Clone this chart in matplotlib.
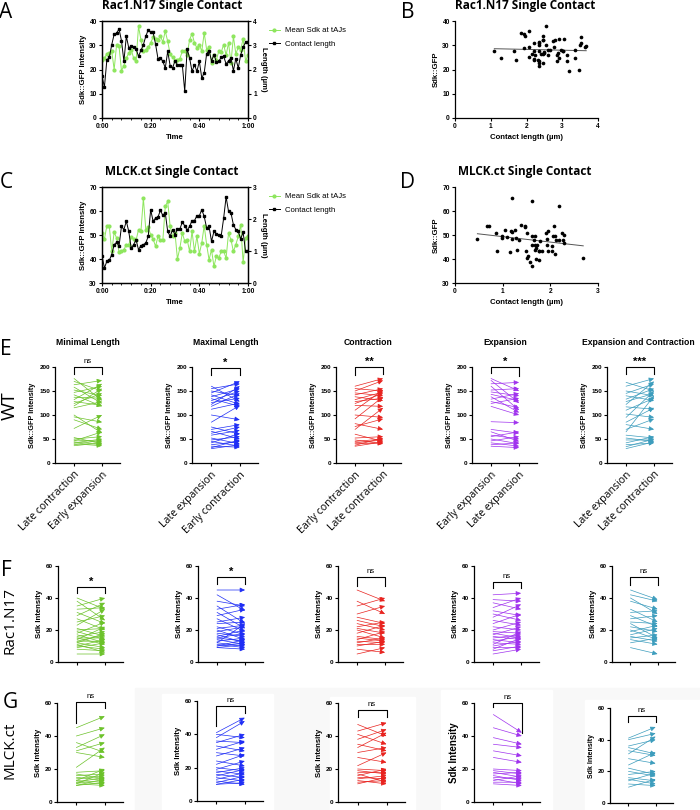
import numpy as np
import matplotlib
matplotlib.use("Agg")
import matplotlib.pyplot as plt
from matplotlib.ticker import MultipleLocator
from matplotlib.lines import Line2D

plt.rcParams["font.family"] = ["Liberation Sans", "DejaVu Sans"]
plt.rcParams["axes.linewidth"] = 0.9

# ---- single contact time courses (A, C) ----
time_min = list(range(61))
A_length = [1.72, 1.28, 2.40, 2.50, 3.02, 3.46, 3.50, 3.67, 3.19, 2.34,
            3.37, 2.89, 2.96, 2.91, 2.86, 2.54, 2.79, 3.02, 3.37, 3.64,
            3.53, 3.53, 3.05, 2.45, 2.47, 2.34, 2.06, 2.75, 2.16, 2.06,
            2.36, 2.20, 2.20, 2.20, 1.10, 2.86, 2.47, 1.92, 2.20, 1.92,
            2.34, 1.65, 1.86, 2.65, 2.78, 2.36, 2.61, 2.31, 2.34, 2.50,
            2.54, 2.23, 2.36, 2.47, 1.95, 2.45, 2.06, 2.61, 2.91, 3.13, 3.13]
A_sdk = [24.0, 24.7, 26.4, 27.0, 27.5, 20.0, 30.3, 29.6, 19.5, 21.6,
         24.7, 26.8, 28.2, 24.7, 23.4, 37.8, 32.3, 27.5, 28.2, 29.2,
         31.0, 33.3, 32.7, 32.3, 33.7, 31.4, 35.8, 31.6, 26.4, 25.0,
         23.7, 24.0, 24.5, 27.5, 27.5, 26.1, 32.3, 34.8, 31.0, 28.9,
         30.3, 27.5, 35.1, 28.2, 29.2, 22.7, 26.1, 24.0, 27.5, 27.2,
         30.3, 25.9, 31.0, 22.7, 33.7, 26.4, 29.2, 28.2, 32.7, 23.4, 26.1]
C_length = [0.85, 0.47, 0.68, 0.71, 0.89, 1.20, 1.27, 1.15, 1.77, 1.67,
            1.93, 1.61, 1.09, 1.20, 1.35, 1.04, 1.17, 1.20, 1.25, 1.46,
            2.29, 1.93, 2.03, 2.06, 2.27, 2.11, 2.19, 1.61, 1.46, 1.67,
            1.51, 1.69, 1.69, 1.90, 1.79, 1.65, 1.77, 1.95, 1.95, 2.10,
            2.10, 2.29, 2.08, 1.72, 1.77, 1.30, 1.61, 1.54, 1.51, 1.48,
            2.03, 2.69, 2.24, 2.19, 1.82, 1.67, 1.61, 1.38, 1.58, 0.99, 0.99]
C_sdk = [50.8, 48.3, 53.9, 53.6, 43.2, 51.1, 48.8, 42.9, 43.2, 43.9,
         46.0, 46.0, 49.2, 48.3, 47.8, 52.2, 51.5, 65.4, 52.2, 53.3,
         50.1, 48.3, 45.3, 49.4, 47.8, 47.8, 61.9, 64.0, 53.6, 49.4,
         50.8, 40.0, 44.6, 50.8, 47.4, 48.0, 43.2, 51.5, 43.2, 49.4,
         42.2, 46.7, 53.9, 46.0, 39.7, 43.9, 36.9, 41.1, 40.4, 43.2,
         43.2, 40.4, 50.8, 48.0, 43.2, 46.0, 49.4, 54.3, 38.6, 48.8, 49.4]

# ---- paired before/after data (E: WT, F: Rac1.N17, G: MLCK.ct) ----
E_titles = ["Minimal Length", "Maximal Length", "Contraction", "Expansion",
            "Expansion and Contraction"]
E_labels = [["Late contraction", "Early expansion"],
            ["Late expansion", "Early contraction"],
            ["Early contraction", "Late contraction"],
            ["Early expansion", "Late expansion"],
            ["Late expansion", "Late contraction"]]
E_sig = ["ns", "*", "**", "*", "***"]
F_sig = ["*", "*", "ns", "ns", "ns"]
G_sig = ["ns", "ns", "ns", "ns", "ns"]

E1_start = [176, 170, 163, 158, 152, 147, 142, 137, 132, 128, 124, 119, 115, 100, 96, 90, 72, 53, 50, 48, 46, 44, 42, 40, 38, 36]
E1_end = [130, 150, 172, 124, 140, 160, 118, 135, 165, 120, 145, 155, 128, 62, 85, 70, 100, 40, 55, 45, 65, 38, 50, 36, 48, 42]
E2_start = [160, 155, 150, 146, 142, 138, 134, 130, 126, 122, 118, 112, 100, 85, 75, 70, 66, 62, 58, 52, 48, 45, 42, 38, 35, 32, 30]
E2_end = [128, 165, 140, 170, 122, 155, 118, 150, 135, 160, 145, 125, 90, 120, 60, 80, 50, 75, 68, 40, 55, 35, 62, 45, 33, 48, 38]
E3_start = [160, 155, 150, 146, 142, 138, 132, 128, 124, 120, 110, 100, 92, 82, 76, 70, 60, 52, 48, 45, 42, 40, 37, 35]
E3_end = [176, 150, 172, 140, 155, 130, 148, 135, 145, 118, 152, 95, 138, 70, 92, 115, 45, 55, 40, 50, 48, 42, 52, 44]
E4_start = [176, 172, 165, 160, 152, 148, 143, 138, 133, 128, 124, 118, 86, 70, 65, 58, 55, 50, 46, 42, 38, 35]
E4_end = [150, 125, 168, 110, 155, 140, 130, 105, 145, 115, 135, 100, 84, 62, 45, 50, 65, 40, 55, 35, 42, 32]
E5_start = [168, 160, 150, 145, 140, 133, 128, 122, 117, 110, 102, 95, 85, 80, 70, 65, 58, 52, 48, 42, 38, 34, 30]
E5_end = [150, 176, 140, 165, 130, 155, 145, 170, 112, 135, 95, 150, 115, 70, 92, 140, 52, 45, 48, 55, 42, 50, 44]

F1_start = [40, 38, 35, 33, 31, 29, 27, 25, 23, 21, 20, 19, 18, 17, 16, 15, 15, 14, 13, 13, 12, 12, 11, 10, 10, 9, 8, 5]
F1_end = [33, 26, 40, 34, 24, 37, 20, 29, 33, 16, 21, 14, 25, 12, 19, 15, 11, 22, 17, 13, 9, 18, 6, 14, 8, 12, 7, 5]
F2_start = [45, 42, 38, 35, 33, 31, 29, 27, 25, 24, 22, 21, 20, 19, 18, 17, 16, 15, 15, 14, 13, 12, 12, 11, 10, 10, 9, 9]
F2_end = [45, 32, 35, 24, 36, 21, 33, 19, 28, 25, 17, 23, 14, 22, 16, 12, 20, 13, 18, 11, 15, 10, 24, 9, 14, 12, 8, 11]
F3_start = [45, 38, 35, 30, 28, 26, 24, 22, 21, 20, 18, 16, 15, 14, 13, 12, 11, 10, 8, 5]
F3_end = [38, 30, 40, 35, 24, 22, 20, 25, 18, 15, 23, 14, 13, 19, 12, 15, 11, 13, 6, 9]
F4_start = [42, 39, 37, 34, 32, 30, 28, 26, 24, 22, 20, 19, 18, 17, 16, 15, 14, 13, 12, 11, 10, 9, 8, 7, 5]
F4_end = [43, 38, 33, 40, 29, 26, 36, 23, 30, 20, 25, 18, 15, 22, 14, 17, 12, 16, 11, 19, 13, 9, 15, 10, 8]
F5_start = [45, 42, 40, 38, 33, 31, 29, 27, 25, 24, 22, 20, 19, 17, 16, 15, 14, 12, 9]
F5_end = [39, 38, 30, 33, 25, 32, 22, 29, 24, 15, 19, 14, 23, 21, 13, 17, 11, 15, 5]

G1_start = [45, 40, 36, 33, 31, 30, 21, 18, 17, 16, 15, 14, 13, 13, 12, 12, 11, 11, 10, 10]
G1_end = [52, 45, 30, 41, 36, 27, 33, 19, 14, 17, 13, 16, 12, 20, 11, 15, 10, 18, 14, 12]
G2_start = [41, 40, 38, 36, 35, 33, 31, 29, 27, 24, 22, 20, 19, 18, 17, 16, 15, 14, 13, 12, 11, 10, 10]
G2_end = [50, 38, 48, 35, 40, 30, 36, 27, 32, 21, 28, 18, 24, 16, 20, 14, 19, 12, 17, 10, 15, 11, 13]
G3_start = [47, 43, 41, 38, 35, 33, 30, 27, 22, 20, 19, 18, 17, 16, 15, 14, 13, 12, 11]
G3_end = [40, 48, 35, 44, 31, 42, 33, 24, 30, 19, 17, 18, 12, 20, 14, 16, 11, 13, 15]
G4_start = [53, 45, 39, 35, 31, 27, 20, 19, 18, 17, 16, 15, 14, 13, 12, 11]
G4_end = [42, 40, 35, 33, 28, 24, 19, 17, 15, 18, 13, 14, 11, 16, 12, 10]
G5_start = [41, 40, 36, 35, 33, 31, 28, 24, 22, 20, 18, 16, 15, 14, 12, 10]
G5_end = [48, 44, 40, 31, 30, 42, 25, 32, 18, 17, 20, 14, 12, 19, 11, 15]

LIME = "#8ee65e"
COLORS = ["#6cc22a", "#1f2ef5", "#e8231f", "#a033ee", "#3d9dbd"]

W, H = 700, 810
fig = plt.figure(figsize=(7, 8.1), dpi=100)


def px_axes(left, top, right, bottom):
    return fig.add_axes([left / W, 1 - bottom / H, (right - left) / W, (bottom - top) / H])


def ftext(x, y, s, **kw):
    fig.text(x / W, 1 - y / H, s, **kw)


def style_ticks(ax, size=4.6):
    ax.tick_params(length=2.5, width=0.8, labelsize=size, pad=1.2)
    for lab in ax.get_xticklabels() + ax.get_yticklabels():
        lab.set_fontweight("bold")


def time_panel(ax, sdk, length, ylim, ymax_len, title, ty):
    ax.plot(time_min, sdk, color=LIME, lw=0.7, marker="o", ms=2.0)
    ax.set_xlim(0, 60)
    ax.set_ylim(*ylim)
    ax.set_xticks([0, 20, 40, 60])
    ax.set_xticklabels(["0:00", "0:20", "0:40", "1:00"])
    ax.xaxis.set_minor_locator(MultipleLocator(4))
    ax.yaxis.set_major_locator(MultipleLocator(10))
    ax.set_ylabel("Sdk::GFP Intensity", fontsize=5.6, fontweight="bold", labelpad=2)
    ax.set_xlabel("Time", fontsize=5.6, fontweight="bold", labelpad=3)
    ax.tick_params(which="minor", length=1.5, width=0.6)
    style_ticks(ax, 4.8)
    ax2 = ax.twinx()
    ax2.plot(time_min, length, color="black", lw=0.7, marker="s", ms=2.0)
    ax2.set_ylim(0, ymax_len)
    ax2.yaxis.set_major_locator(MultipleLocator(1))
    ax2.set_ylabel("Length (µm)", fontsize=5.6, fontweight="bold", rotation=270, labelpad=7)
    style_ticks(ax2, 4.8)
    ftext(172, ty, title, fontsize=8.5, fontweight="bold", family="Open Sans", ha="center", va="center")
    return ax2


def scatter_panel(ax, length, sdk, xmax, ylim, title, ty):
    ax.scatter(length, sdk, s=7, color="black", lw=0, zorder=3)
    k, b = np.polyfit(length, sdk, 1)
    xs = np.array([min(length), max(length)])
    ax.plot(xs, k * xs + b, color="#555555", lw=0.7)
    ax.set_xlim(0, xmax)
    ax.set_ylim(*ylim)
    ax.xaxis.set_major_locator(MultipleLocator(1))
    ax.yaxis.set_major_locator(MultipleLocator(10))
    for s in ["top", "right"]:
        ax.spines[s].set_visible(False)
    ax.set_ylabel("Sdk::GFP", fontsize=5.6, fontweight="bold", labelpad=2)
    ax.set_xlabel("Contact length (µm)", fontsize=5.6, fontweight="bold", labelpad=3)
    style_ticks(ax, 4.8)
    ftext(525, ty, title, fontsize=8.5, fontweight="bold", family="Open Sans", ha="center", va="center")


# A
axA = px_axes(102, 21, 248, 118)
time_panel(axA, A_sdk, A_length, (0, 40), 4, "Rac1.N17 Single Contact", 6)
# B
axB = px_axes(455, 21, 598, 118)
scatter_panel(axB, A_length, A_sdk, 4, (0, 40), "Rac1.N17 Single Contact", 6)
# C
axC = px_axes(102, 187, 248, 283)
time_panel(axC, C_sdk, C_length, (30, 70), 3, "MLCK.ct Single Contact", 172)
# D
axD = px_axes(455, 187, 598, 283)
scatter_panel(axD, C_length, C_sdk, 3, (30, 70), "MLCK.ct Single Contact", 172)

leg_handles = [Line2D([], [], color=LIME, lw=0.7, marker="o", ms=2.0),
               Line2D([], [], color="black", lw=0.7, marker="s", ms=2.0)]
for ytop in (20, 186):
    fig.legend(leg_handles, ["Mean Sdk at tAJs", "Contact length"], loc="upper left",
               bbox_to_anchor=(262 / W, 1 - ytop / H), frameon=False, fontsize=5.6,
               handlelength=1.4, handletextpad=0.7, labelspacing=0.8)


def paired_panel(box, start, end, color, ymax, ystep, sig, bracket, ylabel, ylsize, xlabels=None):
    ax = px_axes(*box)
    for s, e in zip(start, end):
        ax.annotate("", xy=(1, e), xytext=(0, s),
                    arrowprops=dict(arrowstyle="-|>,head_length=0.3,head_width=0.14",
                                    color=color, lw=0.5, shrinkA=0, shrinkB=0,
                                    mutation_scale=10),
                    annotation_clip=False)
    ax.set_xlim(-0.68, 1.64)
    ax.set_ylim(0, ymax)
    ax.set_xticks([0, 1])
    ax.yaxis.set_major_locator(MultipleLocator(ystep))
    for sp in ["top", "right"]:
        ax.spines[sp].set_visible(False)
    style_ticks(ax, 4.6)
    if xlabels:
        ax.set_xticklabels(xlabels, rotation=45, ha="right", rotation_mode="anchor",
                           fontsize=7.6, family="Open Sans", fontweight="normal")
        ax.tick_params(axis="x", pad=2)
    else:
        ax.set_xticklabels([])
    ax.set_ylabel(ylabel, fontsize=ylsize, fontweight="bold", labelpad=2)
    top, lleg, rleg = bracket
    ax.plot([0, 0, 1, 1], [lleg, top, top, rleg], color="black", lw=0.8, clip_on=False)
    if "*" in sig:
        ax.text(0.5, top + ymax * 0.055, sig, ha="center", va="center", fontsize=8, fontweight="bold")
    else:
        ax.text(0.5, top + ymax * 0.02, sig, ha="center", va="bottom", fontsize=5.6)
    return ax


E_start = [E1_start, E2_start, E3_start, E4_start, E5_start]
E_end = [E1_end, E2_end, E3_end, E4_end, E5_end]
F_start = [F1_start, F2_start, F3_start, F4_start, F5_start]
F_end = [F1_end, F2_end, F3_end, F4_end, F5_end]
G_start = [G1_start, G2_start, G3_start, G4_start, G5_start]
G_end = [G1_end, G2_end, G3_end, G4_end, G5_end]

E_x = [(55, 120), (192, 258), (336, 401), (472, 537), (607, 672)]
E_tx = [88, 226, 368, 505, 638]
E_br = [(200, 185, 185), (197, 183, 183), (200, 183, 185), (200, 187, 181), (200, 185, 185)]
F_x = [(58, 123), (198, 263), (338, 403), (474, 539), (612, 675)]
F_br = [(47, 43, 43), (53, 49, 49), (53, 47.5, 47.5), (50, 46, 46), (53, 48, 48)]
G_box = [(57, 703, 123, 802), (197, 701, 263, 801), (338, 703, 405, 802),
         (474, 703, 540, 802), (610, 708, 673, 803)]
G_br = [(60.6, 48, 57), (57, 45, 53), (56, 51.5, 51.5), (60, 57.6, 42), (55, 51, 51)]
G_ylsize = [5.6, 5.6, 5.6, 7.0, 5.0]

# faint grey backdrop of row G with white tiles
fig.patches.append(plt.Rectangle((135 / W, 0), 565 / W, 122 / H, transform=fig.transFigure,
                                 color="#f8f8f8", zorder=-5))
for l, t, r in [(162, 694, 273), (330, 697, 415), (441, 690, 552), (585, 700, 700)]:
    fig.patches.append(plt.Rectangle((l / W, 0), (r - l) / W, (H - t) / H,
                                     transform=fig.transFigure, color="white", zorder=-4))

for i in range(5):
    l, r = E_x[i]
    paired_panel((l, 367, r, 463), E_start[i], E_end[i], COLORS[i], 200, 50, E_sig[i],
                 E_br[i], "Sdk::GFP Intensity", 5.2, E_labels[i])
    ftext(E_tx[i], 343, E_titles[i], fontsize=6.2, fontweight="bold", ha="center", va="center")
    l, r = F_x[i]
    paired_panel((l, 566, r, 662), F_start[i], F_end[i], COLORS[i], 60, 20, F_sig[i],
                 F_br[i], "Sdk Intensity", 5.6)
    paired_panel(G_box[i], G_start[i], G_end[i], COLORS[i], 60, 20, G_sig[i],
                 G_br[i], "Sdk Intensity", G_ylsize[i])

# panel letters and row labels
for let, x, y in [("A", 6, 12), ("B", 408, 12), ("C", 6, 182), ("D", 408, 182),
                  ("E", 6, 350), ("F", 6, 570), ("G", 10, 702)]:
    ftext(x, y, let, fontsize=15, family="Open Sans", ha="center", va="center")
for lab, y, sz in [("WT", 406, 14), ("Rac1.N17", 620, 11), ("MLCK.ct", 750, 11)]:
    ftext(10, y, lab, fontsize=sz, family="Open Sans", rotation=90, ha="center", va="center")

fig.savefig("out.png", dpi=100)
